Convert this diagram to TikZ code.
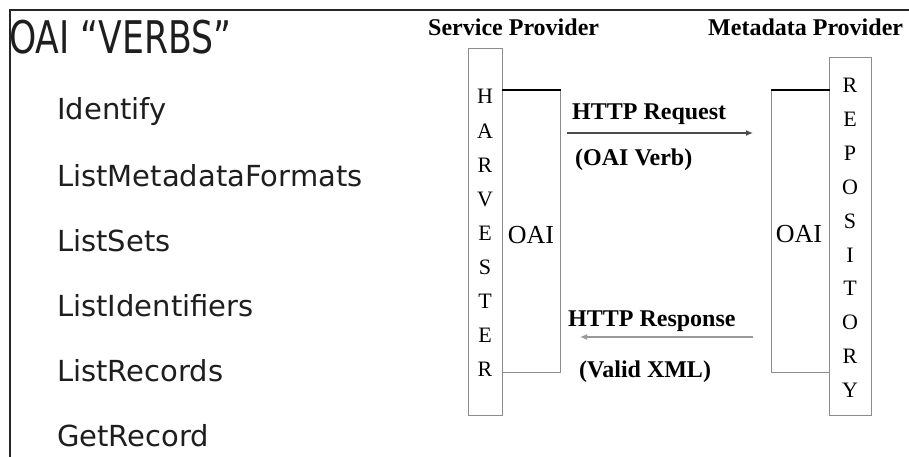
\documentclass[tikz,border=0pt]{standalone}
\usepackage{fontspec}
\setmainfont{Liberation Serif}
\newfontfamily\sansf{DejaVu Sans}
\usetikzlibrary{arrows.meta}
\definecolor{boxgray}{HTML}{8C8C8C}
\definecolor{txt}{HTML}{1E1E1E}
\begin{document}
\begin{tikzpicture}[x=1pt,y=-1pt,
  frameline/.style={draw=black!85, line width=1.4pt},
  item/.style={anchor=base west, inner sep=0, text=txt, font=\sansf\fontsize{29}{29}\selectfont},
  lbl/.style={anchor=base west, inner sep=0, text=black, font=\bfseries\fontsize{24}{24}\selectfont},
  tall/.style={draw=boxgray, line width=1.4pt, inner sep=0, anchor=north west},
  oaibox/.style={draw=boxgray, line width=1.4pt, inner sep=0, anchor=north west},
  letter/.style={anchor=base, inner sep=0, font=\fontsize{22}{22}\selectfont},
  oailbl/.style={anchor=base, inner sep=0, font=\fontsize{26}{26}\selectfont},
  msg/.style={line width=1.3pt, -{Latex[length=7pt,width=6pt]}}
]
\useasboundingbox (0,0) rectangle (909,457);
\fill[white] (0,0) rectangle (909,457);
\draw[frameline] (10,457) -- (10,10) -- (909,10);

% left: verbs
\node[anchor=base west, inner sep=0, text=txt] (title) at (9,54)
  {\scalebox{0.77}[1]{\sansf\fontsize{45}{45}\selectfont OAI “VERBS”}};
\node[item] (v1) at (57,120) {Identify};
\node[item] (v2) at (57,186) {ListMetadataFormats};
\node[item] (v3) at (57,251) {ListSets};
\node[item] (v4) at (57,316) {ListIdentifiers};
\node[item] (v5) at (57,381) {ListRecords};
\node[item] (v6) at (57,446) {GetRecord};

% headings
\node[lbl] (sp) at (428,36) {Service Provider};
\node[lbl] (mp) at (708,36) {Metadata Provider};

% harvester side
\node[tall, minimum width=34pt, minimum height=367pt] (harv) at (468,48) {};
\node[oaibox, minimum width=58pt, minimum height=282pt] (hoai) at (502,90) {};
\draw[black, line width=1.4pt] (hoai.north west) -- (hoai.north east);
\foreach \l [count=\i from 0] in {H,A,R,V,E,S,T,E,R}
  \node[letter] (h\i) at (485,{104+34.1*\i}) {\l};
\node[oailbl] (hoailbl) at (531,243) {OAI};

% repository side
\node[tall, minimum width=42pt, minimum height=358pt] (repo) at (829,57) {};
\node[oaibox, minimum width=58pt, minimum height=282pt] (roai) at (771,90) {};
\draw[black, line width=1.4pt] (roai.north west) -- (roai.north east);
\foreach \l [count=\i from 0] in {R,E,P,O,S,I,T,O,R,Y}
  \node[letter] (r\i) at (850,{93+33.8*\i}) {\l};
\node[oailbl] (roailbl) at (799,242) {OAI};

% messages
\coordinate (rqs) at (567,133);
\coordinate (rqe) at (753,133);
\draw[msg, draw=black!70, fill=black] (rqs) -- (rqe);
\node[lbl] (rq) at (572,120) {HTTP Request};
\node[lbl] (rqv) at (575,165) {(OAI Verb)};

\coordinate (rss) at (753,337);
\coordinate (rse) at (580,337);
\draw[msg, draw=black!40, fill=black] (rss) -- (rse);
\node[lbl] (rs) at (568,326) {HTTP Response};
\node[lbl] (rsv) at (579,377) {(Valid XML)};
\end{tikzpicture}
\end{document}
